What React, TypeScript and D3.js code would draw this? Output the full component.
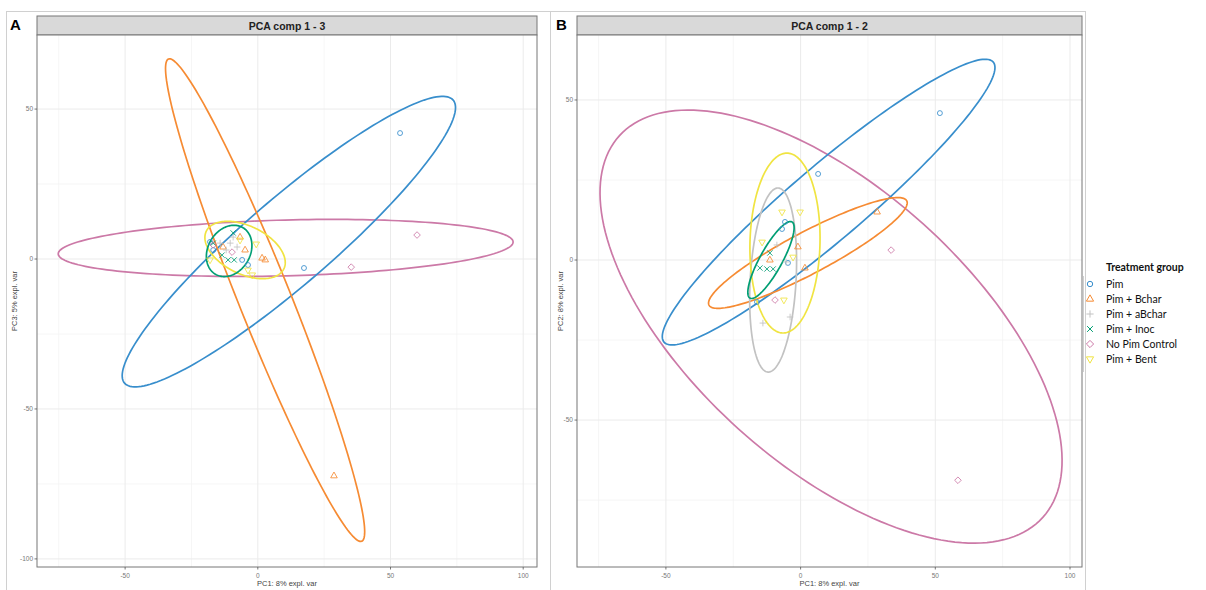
import React from "react";
import * as d3 from "d3";

// ---------- categories / styling keys ----------
const groups = ["Pim", "Pim + Bchar", "Pim + aBchar", "Pim + Inoc", "No Pim Control", "Pim + Bent"];
const groupColors = ["#388ECC", "#F68B33", "#C2C2C2", "#009E73", "#CC79A7", "#F0E442"];
const groupShapes = ["circle", "triangle", "plus", "cross", "diamond", "triangleDown"];

const xTicks = [-50, 0, 50, 100];
const xMinor = [-75, -25, 25, 75];
const yTicksA = [50, 0, -50, -100];
const yMinorA = [25, -25, -75];
const yTicksB = [50, 0, -50];
const yMinorB = [25, -25, -75];

// ---------- Panel A (PC1 vs PC3) sample scores ----------
const pimA = [[53.6, 42.0], [17.4, -3.0], [-18.0, 5.7], [-16.8, 3.0], [-5.9, -0.3], [-3.7, -2.0]];
const bcharA = [[28.7, -72.3], [-6.7, 7.3], [1.6, 0.3], [2.8, -0.3], [-4.8, 3.0], [-13.1, 4.0]];
const abcharA = [[-14.2, 5.3], [-10.4, 5.3], [-7.8, 4.0], [-9.3, 7.3], [-11.9, 3.0]];
const inocA = [[-9.3, 8.7], [-11.2, -0.3], [-8.9, -0.3], [-13.5, 1.3], [-16.8, 5.3]];
const noPimA = [[60.0, 8.0], [35.2, -2.7], [-16.8, 4.7], [-9.7, 2.3]];
const bentA = [[-3.7, -3.7], [-18.0, -0.3], [-6.7, 6.3], [-0.6, 5.0], [-2.1, -5.3]];

// ---------- Panel B (PC1 vs PC2) sample scores ----------
const pimB = [[51.7, 45.9], [6.5, 26.9], [-5.8, 11.9], [-6.9, 9.7], [-16.2, -13.1], [-4.7, -0.9]];
const bcharB = [[28.4, 15.0], [-1.0, 4.1], [-11.4, 0.0], [1.6, -2.5]];
const abcharB = [[-8.8, 4.7], [-3.9, -17.8], [-14.0, -19.7], [-5.4, -0.6]];
const inocB = [[-15.1, -2.5], [-12.5, -2.8], [-10.2, -2.8], [-11.4, 2.2]];
const noPimB = [[33.6, 3.1], [58.4, -68.8], [-9.5, -12.5]];
const bentB = [[-6.9, 15.0], [-0.2, 15.0], [-14.3, 5.6], [-2.8, 0.9], [-6.2, -12.5]];

// ---------- confidence ellipses: [cx, cy, ux, uy, vx, vy] (conjugate semi-axes, data units) ----------
const ellipsesA = [
  [11.7, 5.8, 61.9, 47.2, 10.6, -10.9],   // Pim
  [2.75, -13.7, 36.4, -80.4, 9.1, 3.2],   // Pim + Bchar
  null,                                   // Pim + aBchar (hidden)
  [-10.8, 2.7, 5.1, 7.8, 6.9, -3.5],      // Pim + Inoc
  [10.5, 3.7, 85.7, 2.0, 0.3, -9.3],      // No Pim Control
  [-4.8, 3.0, 14.6, -6.3, -4.0, -7.2],    // Pim + Bent
];
const ellipsesB = [
  [10.4, 18.1, 61.1, 43.75, 8.9, -8.8],
  [2.7, 2.2, 36.7, 16.3, 3.6, -5.8],
  [-10.2, -6.25, 1.9, 28.75, 8.5, -0.4],
  [-11.0, 0.0, 7.8, 11.9, 3.6, -1.7],
  [11.3, -20.8, 78.6, -59.6, -34.3, -32.0],
  [-5.8, 5.3, 0.7, 28.1, 13.0, 0.0],
];

const pointsA = [pimA, bcharA, abcharA, inocA, noPimA, bentA];
const pointsB = [pimB, bcharB, abcharB, inocB, noPimB, bentB];
const ellipseOrder = [4, 0, 1, 2, 5, 3];

function shapePath(shape: string, s: number): string {
  switch (shape) {
    case "circle":
      return `M${-s * 0.75},0A${s * 0.75},${s * 0.75} 0 1,0 ${s * 0.75},0A${s * 0.75},${s * 0.75} 0 1,0 ${-s * 0.75},0Z`;
    case "triangle":
      return `M0,${-s * 1.15}L${s},${s * 0.6}L${-s},${s * 0.6}Z`;
    case "triangleDown":
      return `M0,${s * 1.15}L${s},${-s * 0.6}L${-s},${-s * 0.6}Z`;
    case "diamond":
      return `M0,${-s}L${s},0L0,${s}L${-s},0Z`;
    case "plus":
      return `M${-s},0H${s}M0,${-s}V${s}`;
    case "cross":
      return `M${-s * 0.8},${-s * 0.8}L${s * 0.8},${s * 0.8}M${-s * 0.8},${s * 0.8}L${s * 0.8},${-s * 0.8}`;
  }
  return "";
}

type PanelProps = {
  left: number; right: number; top: number; bottom: number;
  xDomain: [number, number]; yDomain: [number, number];
  yTicks: number[]; yMinor: number[];
  title: string; letter: string; letterX: number;
  yTitle: string; yTitleX: number;
  points: number[][][]; ellipses: (number[] | null)[];
};

function Panel(p: PanelProps) {
  const x = d3.scaleLinear().domain(p.xDomain).range([p.left, p.right]);
  const y = d3.scaleLinear().domain(p.yDomain).range([p.bottom, p.top]);
  const stripTop = 16;
  const line = d3.line<number[]>().x(d => x(d[0])).y(d => y(d[1])).curve(d3.curveLinearClosed);
  const ts = d3.range(0, 2 * Math.PI, Math.PI / 90);
  const cx = (p.left + p.right) / 2;
  const cy = (p.top + p.bottom) / 2;
  return (
    <g>
      <text x={p.letterX} y={30} fontFamily="Liberation Sans, Arial, sans-serif" fontWeight="bold" fontSize={15} fill="#000">{p.letter}</text>
      <rect x={p.left} y={stripTop} width={p.right - p.left} height={p.top - stripTop} fill="#d9d9d9" stroke="#777" strokeWidth={1} />
      <text x={cx} y={29.5} textAnchor="middle" fontFamily="Liberation Sans, Arial, sans-serif" fontWeight="bold" fontSize={10.5} fill="#222">{p.title}</text>
      <rect x={p.left} y={p.top} width={p.right - p.left} height={p.bottom - p.top} fill="#fff" />
      {xMinor.map(v => <line key={"xm" + v} x1={x(v)} x2={x(v)} y1={p.top} y2={p.bottom} stroke="#f4f4f4" strokeWidth={0.8} />)}
      {p.yMinor.map(v => <line key={"ym" + v} y1={y(v)} y2={y(v)} x1={p.left} x2={p.right} stroke="#f4f4f4" strokeWidth={0.8} />)}
      {xTicks.map(v => <line key={"xg" + v} x1={x(v)} x2={x(v)} y1={p.top} y2={p.bottom} stroke="#ebebeb" strokeWidth={1} />)}
      {p.yTicks.map(v => <line key={"yg" + v} y1={y(v)} y2={y(v)} x1={p.left} x2={p.right} stroke="#ebebeb" strokeWidth={1} />)}
      {ellipseOrder.map(gi => {
        const e = p.ellipses[gi];
        if (!e) return null;
        const pts = ts.map(t => [e[0] + e[2] * Math.cos(t) + e[4] * Math.sin(t), e[1] + e[3] * Math.cos(t) + e[5] * Math.sin(t)]);
        return <path key={"e" + gi} d={line(pts) || ""} fill="none" stroke={groupColors[gi]} strokeWidth={1.7} />;
      })}
      {p.points.map((arr, gi) => arr.map((d, i) => (
        <path key={"p" + gi + "-" + i} d={shapePath(groupShapes[gi], 3.3)} transform={`translate(${x(d[0])},${y(d[1])})`}
          fill="none" stroke={groupColors[gi]} strokeWidth={1} opacity={0.85} />
      )))}
      <rect x={p.left} y={p.top} width={p.right - p.left} height={p.bottom - p.top} fill="none" stroke="#777" strokeWidth={1} />
      {xTicks.map(v => (
        <g key={"xt" + v}>
          <line x1={x(v)} x2={x(v)} y1={p.bottom} y2={p.bottom + 2.5} stroke="#555" strokeWidth={0.8} />
          <text x={x(v)} y={p.bottom + 10.5} textAnchor="middle" fontFamily="Liberation Sans, Arial, sans-serif" fontSize={6.5} fill="#777">{v}</text>
        </g>
      ))}
      {p.yTicks.map(v => (
        <g key={"yt" + v}>
          <line x1={p.left - 2.5} x2={p.left} y1={y(v)} y2={y(v)} stroke="#555" strokeWidth={0.8} />
          <text x={p.left - 4} y={y(v) + 2.3} textAnchor="end" fontFamily="Liberation Sans, Arial, sans-serif" fontSize={6.5} fill="#777">{v}</text>
        </g>
      ))}
      <text x={cx} y={p.bottom + 19} textAnchor="middle" fontFamily="Liberation Sans, Arial, sans-serif" fontSize={7.5} fill="#444">PC1: 8% expl. var</text>
      <text transform={`translate(${p.yTitleX},${cy}) rotate(-90)`} textAnchor="middle" fontFamily="Liberation Sans, Arial, sans-serif" fontSize={7.5} fill="#444">{p.yTitle}</text>
    </g>
  );
}

export default function App() {
  const W = 1206, H = 590;
  const legendY0 = 284, legendStep = 15;
  return (
    <svg width={W} height={H} style={{ position: "absolute", left: 0, top: 0, background: "#fff" }}>
      <rect x={0} y={0} width={W} height={H} fill="#fff" />
      <rect x={6.5} y={11.5} width={544} height={590} fill="none" stroke="#d0d0d0" strokeWidth={1} />
      <rect x={550.5} y={11.5} width={535} height={590} fill="none" stroke="#d0d0d0" strokeWidth={1} />
      <Panel left={37} right={537} top={35} bottom={567} xDomain={[-83.2, 105.2]} yDomain={[-102.7, 74.7]}
        yTicks={yTicksA} yMinor={yMinorA} title="PCA comp 1 - 3" letter="A" letterX={10}
        yTitle="PC3: 5% expl. var" yTitleX={17} points={pointsA} ellipses={ellipsesA} />
      <Panel left={577} right={1082} top={35} bottom={567} xDomain={[-83.0, 104.45]} yDomain={[-95.9, 70.3]}
        yTicks={yTicksB} yMinor={yMinorB} title="PCA comp 1 - 2" letter="B" letterX={556}
        yTitle="PC2: 8% expl. var" yTitleX={563} points={pointsB} ellipses={ellipsesB} />
      <rect x={1086} y={255} width={120} height={120} fill="#fff" />
      <line x1={1083.5} x2={1083.5} y1={276} y2={372} stroke="#d0d0d0" strokeWidth={1} />
      <text x={1106} y={270.5} fontFamily="Lato, Open Sans, sans-serif" fontWeight="bold" fontSize={10.5} fill="#111">Treatment group</text>
      {groups.map((g, i) => (
        <g key={g}>
          <path d={shapePath(groupShapes[i], 3.6)} transform={`translate(1090,${legendY0 + i * legendStep})`} fill="none" stroke={groupColors[i]} strokeWidth={1} />
          <text x={1106} y={legendY0 + i * legendStep + 3.8} fontFamily="Lato, Open Sans, sans-serif" fontSize={10.5} fill="#111">{g}</text>
        </g>
      ))}
    </svg>
  );
}
